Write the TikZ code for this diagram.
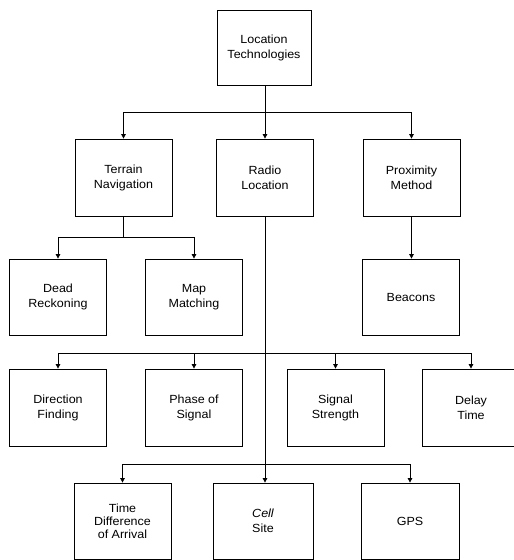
\documentclass[tikz,border=0pt]{standalone}
\usepackage{fontspec}
\setmainfont[FakeStretch=1.06]{Liberation Sans}
\usetikzlibrary{arrows.meta}
\tikzset{
  box/.style={draw, line width=0.8pt, minimum width=97pt, minimum height=77pt,
    inner sep=0pt, align=center, font=\fontsize{11.8}{15}\selectfont},
  conn/.style={draw, line width=0.8pt},
  arr/.style={conn, -{Triangle[length=4.5pt,width=4.5pt]}}
}
\begin{document}
\begin{tikzpicture}[x=1pt,y=-1pt]
\clip (0,0) rectangle (514,560);
\fill[white] (0,0) rectangle (514,560);
% level 1
\node[box, minimum width=94pt, minimum height=75pt] (top) at (264,47.5) {Location\\Technologies};
% level 2
\node[box] (terr)  at (123.5,177.5) {Terrain\\Navigation};
\node[box] (radio) at (265,177.5) {Radio\\Location};
\node[box] (prox)  at (411.5,177.5) {Proximity\\Method};
% level 3
\node[box, minimum height=76pt] (dead) at (58,297) {Dead\\Reckoning};
\node[box, minimum height=76pt] (map)  at (194,297) {Map\\Matching};
\node[box, minimum height=76pt] (beac) at (411,297) {Beacons};
% level 4
\node[box] (dir)   at (58,407.5) {Direction\\Finding};
\node[box] (phase) at (194,407.5) {Phase of\\Signal};
\node[box] (sig)   at (335.5,407.5) {Signal\\Strength};
\node[box] (delay) at (471,407.5) {Delay\\Time};
% level 5
\node[box, minimum height=76pt, font=\fontsize{11.8}{13}\selectfont] (tdoa) at (122.5,521) {Time\\Difference\\of Arrival};
\node[box, minimum height=76pt, minimum width=100pt] (cell) at (263,521) {{\itshape Cell}\\Site};
\node[box, minimum height=76pt, minimum width=98pt] (gps)  at (410,521) {GPS};
% connectors
\coordinate (b1) at (265,112);
\draw[conn] (top.south -| b1) -- (b1);
\draw[arr] (b1) -| (terr.north);
\draw[arr] (b1) -- (radio.north);
\draw[arr] (b1) -| (prox.north);
\coordinate (b2) at (123.5,237);
\draw[conn] (terr.south) -- (b2);
\draw[arr] (b2) -| (dead.north);
\draw[arr] (b2) -| (map.north);
\draw[arr] (prox.south) -- (prox.south |- beac.north);
\coordinate (b3) at (265,353);
\coordinate (b4) at (265,464);
\draw[arr] (radio.south) -- (radio.south |- cell.north);
\draw[arr] (b3) -| (dir.north);
\draw[arr] (b3) -| (phase.north);
\draw[arr] (b3) -| (sig.north);
\draw[arr] (b3) -| (delay.north);
\draw[arr] (b4) -| (tdoa.north);
\draw[arr] (b4) -| (gps.north);
\end{tikzpicture}
\end{document}
